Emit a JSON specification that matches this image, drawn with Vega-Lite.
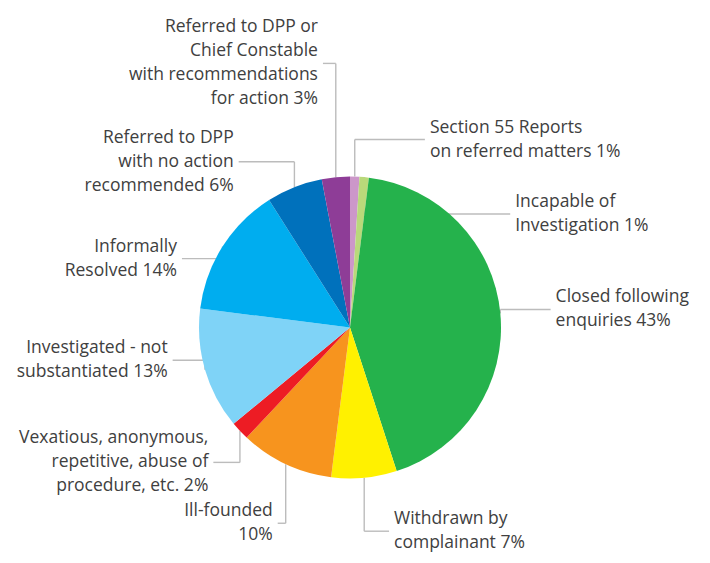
{
  "$schema": "https://vega.github.io/schema/vega-lite/v6.json",
  "width": 700,
  "height": 471,
  "autosize": "none",
  "padding": {"left": 0, "top": 92, "right": 10, "bottom": 0},
  "background": "white",
  "config": {"view": {"stroke": null}},
  "data": {
    "values": [
      {"label": "Section 55 Reports\non referred matters 1%", "pct": 1},
      {"label": "Incapable of\nInvestigation 1%", "pct": 1},
      {"label": "Closed following\nenquiries 43%", "pct": 43},
      {"label": "Withdrawn by\ncomplainant 7%", "pct": 7},
      {"label": "Ill-founded\n10%", "pct": 10},
      {"label": "Vexatious, anonymous,\nrepetitive, abuse of\nprocedure, etc. 2%", "pct": 2},
      {"label": "Investigated - not\nsubstantiated 13%", "pct": 13},
      {"label": "Informally\nResolved 14%", "pct": 14},
      {"label": "Referred to DPP\nwith no action\nrecommended 6%", "pct": 6},
      {"label": "Referred to DPP or\nChief Constable\nwith recommendations\nfor action 3%", "pct": 3}
    ]
  },
  "transform": [
    {"calculate": "max(datum.pct, 16)", "as": "w"},
    {"window": [{"op": "sum", "field": "pct", "as": "cum"}, {"op": "sum", "field": "w", "as": "cumw"}], "frame": [null, 0]},
    {"joinaggregate": [{"op": "sum", "field": "w", "as": "totw"}]},
    {"calculate": "2*PI*(datum.cum - datum.pct)/100", "as": "a0"},
    {"calculate": "2*PI*datum.cum/100", "as": "a1"},
    {"calculate": "(datum.a0 + datum.a1)/2", "as": "m"},
    {"calculate": "datum.pct >= 20 ? datum.m : 2*PI*(datum.cumw - datum.w/2)/datum.totw + 8*PI/180", "as": "L"},
    {"calculate": "length(split(datum.label, '\\n'))", "as": "lines"},
    {"calculate": "180 + 15*(datum.lines - 2)*(datum.lines - 3)", "as": "R"},
    {"calculate": "151*sin(datum.m)", "as": "ex"},
    {"calculate": "151*cos(datum.m)", "as": "ey"},
    {"calculate": "datum.R*sin(datum.L)*(1 + 0.12*max(0, sin(datum.L)))", "as": "kx"},
    {"calculate": "datum.R*cos(datum.L)*(1 + 0.1*pow(cos(datum.L), 4))", "as": "ky"},
    {"calculate": "datum.ky + cos(datum.L)*(datum.lines - 1)*12", "as": "cy"},
    {"calculate": "datum.kx >= 0 ? max(datum.kx, datum.ex + 8) : min(datum.kx, datum.ex - 8)", "as": "hx"},
    {"calculate": "datum.hx + (datum.kx >= 0 ? 5 : -5)", "as": "tx"},
    {"calculate": "datum.cy + (datum.lines - 1)*12", "as": "ty"}
  ],
  "encoding": {
    "x": {"type": "quantitative", "axis": null, "scale": {"domain": [-350, 350], "nice": false, "zero": false}},
    "y": {"type": "quantitative", "axis": null, "scale": {"domain": [-235.5, 235.5], "nice": false, "zero": false}}
  },
  "layer": [
    {
      "mark": {"type": "rule", "color": "#bcbcbc", "strokeWidth": 1.4},
      "encoding": {
        "x": {"field": "ex", "type": "quantitative"},
        "y": {"field": "ey", "type": "quantitative"},
        "y2": {"field": "cy"}
      }
    },
    {
      "mark": {"type": "rule", "color": "#bcbcbc", "strokeWidth": 1.4},
      "encoding": {
        "x": {"field": "ex", "type": "quantitative"},
        "x2": {"field": "hx"},
        "y": {"field": "cy", "type": "quantitative"}
      }
    },
    {
      "mark": {"type": "arc", "outerRadius": 151},
      "encoding": {
        "x": null,
        "y": null,
        "theta": {"field": "a0", "type": "quantitative", "scale": null},
        "theta2": {"field": "a1"},
        "color": {
          "field": "label",
          "type": "nominal",
          "legend": null,
          "scale": {
            "domain": [
              "Section 55 Reports\non referred matters 1%",
              "Incapable of\nInvestigation 1%",
              "Closed following\nenquiries 43%",
              "Withdrawn by\ncomplainant 7%",
              "Ill-founded\n10%",
              "Vexatious, anonymous,\nrepetitive, abuse of\nprocedure, etc. 2%",
              "Investigated - not\nsubstantiated 13%",
              "Informally\nResolved 14%",
              "Referred to DPP\nwith no action\nrecommended 6%",
              "Referred to DPP or\nChief Constable\nwith recommendations\nfor action 3%"
            ],
            "range": ["#cc97c9", "#b9d97a", "#25b24c", "#fff100", "#f7941e", "#ed1c24", "#7fd3f7", "#00adef", "#0071bc", "#8e3d97"]
          }
        }
      }
    },
    {
      "transform": [{"filter": "datum.kx >= 0"}],
      "mark": {"type": "text", "align": "left", "baseline": "middle", "lineBreak": "\n", "lineHeight": 24, "font": "Open Sans", "fontSize": 17.5, "color": "#404040"},
      "encoding": {
        "x": {"field": "tx", "type": "quantitative"},
        "y": {"field": "ty", "type": "quantitative"},
        "text": {"field": "label"}
      }
    },
    {
      "transform": [{"filter": "datum.kx < 0"}],
      "mark": {"type": "text", "align": "right", "baseline": "middle", "lineBreak": "\n", "lineHeight": 24, "font": "Open Sans", "fontSize": 17.5, "color": "#404040"},
      "encoding": {
        "x": {"field": "tx", "type": "quantitative"},
        "y": {"field": "ty", "type": "quantitative"},
        "text": {"field": "label"}
      }
    }
  ]
}
